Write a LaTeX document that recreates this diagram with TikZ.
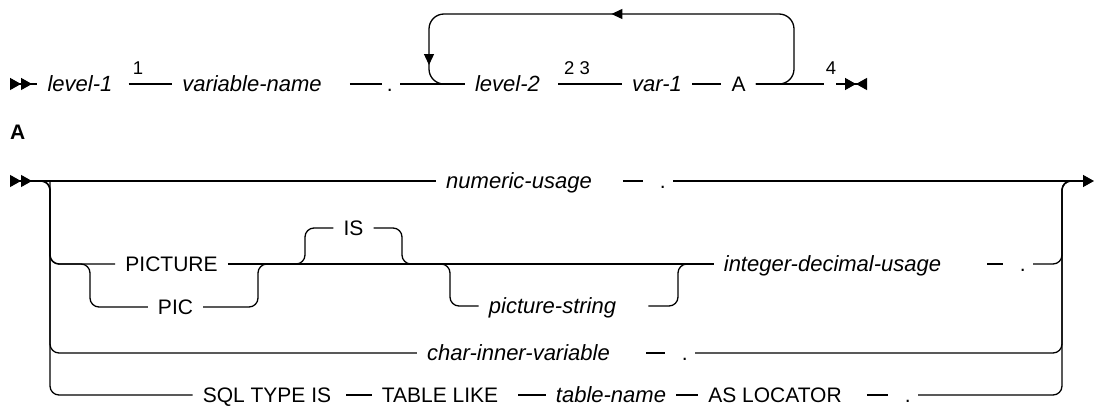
\documentclass[tikz,border=0pt]{standalone}
\usepackage{fontspec}
\setmainfont{Liberation Sans}
\usetikzlibrary{arrows.meta, decorations.markings}

\newcommand{\dotsym}{\hspace*{17pt}.\hspace*{7pt}}

\begin{document}
\begin{tikzpicture}[x=1pt, y=-1pt,
    rr/.style={line width=1.3pt},
    rc/.style={rr, rounded corners=9pt},
    kw/.style={inner xsep=10pt, inner ysep=0pt, text height=15.5pt, text depth=0pt, font=\fontsize{21}{24}\selectfont},
    var/.style={kw, font=\fontsize{22}{25}\selectfont\itshape},
    dotn/.style={kw, inner xsep=0pt, anchor=east},
    note/.style={inner sep=0pt, anchor=base, font=\fontsize{18.5}{21}\selectfont},
    startmark/.style={rr, {Triangle[reversed,length=11pt,width=12pt]Triangle[reversed,length=11pt,width=12pt]}-},
    loopmark/.style={decoration={markings,
        mark=at position 278pt with {\arrow{Triangle[length=11pt,width=10pt]}},
        mark=at position 505pt with {\arrow{Triangle[length=11pt,width=10pt]}}}, postaction={decorate}}]
    \useasboundingbox (0,0) rectangle (1095,406);

    % first line
    \coordinate (s1) at (10,84);
    \node[var] (lvl1) at (80,84) {level-1};
    \node[note] (fn1) at (138,75) {1};
    \node[var] (varn) at (252,84) {variable-name};
    \node[dotn] (dot0) at (400,84) {\hspace*{5pt}.\hspace*{7pt}};
    \node[var] (lvl2) at (507.5,84) {level-2};
    \node[note] (fn23) at (577,75) {2 3};
    \node[var] (var1) at (657,84) {var-1};
    \node[kw] (aa) at (738.5,84) {A};
    \node[note] (fn4) at (831,75) {4};
    \coordinate (g4a) at (824,84);
    \coordinate (g4b) at (836,84);
    \coordinate (e1) at (867,84);
    \coordinate (loopNE) at (794,14);
    \coordinate (loopNW) at (429,14);

    \draw[startmark] (s1) -- (lvl1.west);
    \draw[rr] ([xshift=6pt]lvl1.east) -- (varn.west);
    \draw[rr] ([xshift=18pt]varn.east) -- (dot0.west);
    \draw[rr] (dot0.east) -- (lvl2.west);
    \draw[rr] ([xshift=8pt]lvl2.east) -- (var1.west);
    \draw[rr] (var1.east) -- (aa.west);
    \draw[rr] (aa.east) -- (g4a);
    \draw[rr, -{Triangle[length=11pt,width=12pt]Triangle[reversed,length=11pt,width=12pt]}] (g4b) -- (e1);
    % repeat loop
    \draw[rr, rounded corners=15pt, loopmark] (aa.east) -| (loopNE) -- (loopNW) |- (lvl2.west);

    % fragment A
    \node[anchor=base west, inner sep=0pt, font=\fontsize{21}{24}\selectfont\bfseries] (hdA) at (10,140) {A};

    \coordinate (s2) at (10,181);
    \coordinate (e2) at (1094,181);
    \coordinate (jL) at (40,181);
    \coordinate (cL) at (50,181);
    \coordinate (cR) at (1062,181);
    \coordinate (jR) at (1073,181);
    \coordinate (picL) at (90,264);
    \coordinate (picR) at (258,264);
    \coordinate (isL) at (305,264);
    \coordinate (isR) at (402,264);
    \coordinate (psL) at (450,264);
    \coordinate (psR) at (678,264);

    \node[var] (numu) at (519,181) {numeric-usage};
    \node[dotn] (dot1) at (673,181) {\dotsym};
    \node[kw] (pict) at (171.5,264) {PICTURE};
    \node[kw] (pic) at (175.5,307) {PIC};
    \node[kw] (is) at (353.5,228) {IS};
    \node[var] (pstr) at (552.5,306) {picture-string};
    \node[var] (idu) at (832.5,264) {integer-decimal-usage};
    \node[dotn] (dot2) at (1033,264) {\dotsym};
    \node[var] (civ) at (518.5,353) {char-inner-variable};
    \node[dotn] (dot3) at (695,353) {\dotsym};
    \node[kw] (sql) at (267,395) {SQL TYPE IS};
    \node[kw] (tl) at (440,395) {TABLE LIKE};
    \node[var] (tname) at (611,395) {table-name};
    \node[kw] (asl) at (775,395) {AS LOCATOR};
    \node[dotn] (dot4) at (918,395) {\dotsym};

    % row 1
    \draw[startmark] (s2) -- (numu.west);
    \draw[rr] ([xshift=21pt]numu.east) -- (dot1.west);
    \draw[rr, -{Triangle[length=11pt,width=12pt]}] (dot1.east) -- (e2);
    % row 2
    \draw[rc] (jL) -- (cL) |- (pict.west);
    \draw[rr] (pict.east) -- (idu.west);
    \draw[rc] (cL) |- (picL) |- (pic.west);
    \draw[rc] (pic.east) -| (picR) -- +(10,0);
    \draw[rc] (isL) ++(-10,0) -- (isL) |- (is.west);
    \draw[rc] (is.east) -| (isR) -- +(10,0);
    \draw[rc] (psL) ++(-10,0) -- (psL) |- (pstr.west);
    \draw[rc] ([xshift=22pt]pstr.east) -| (psR) -- +(10,0);
    \draw[rr] ([xshift=36pt]idu.east) -- (dot2.west);
    \draw[rc] (dot2.east) -| (cR) -- (jR);
    % row 3
    \draw[rc] (jL) -- (cL) |- (civ.west);
    \draw[rr] ([xshift=26pt]civ.east) -- (dot3.west);
    \draw[rc] (dot3.east) -| (cR) -- (jR);
    % row 4
    \draw[rc] (jL) -- (cL) |- (sql.west);
    \draw[rr] ([xshift=5pt]sql.east) -- (tl.west);
    \draw[rr] ([xshift=10pt]tl.east) -- (tname.west);
    \draw[rr] (tname.east) -- (asl.west);
    \draw[rr] ([xshift=15pt]asl.east) -- (dot4.west);
    \draw[rc] (dot4.east) -| (cR) -- (jR);
\end{tikzpicture}
\end{document}
